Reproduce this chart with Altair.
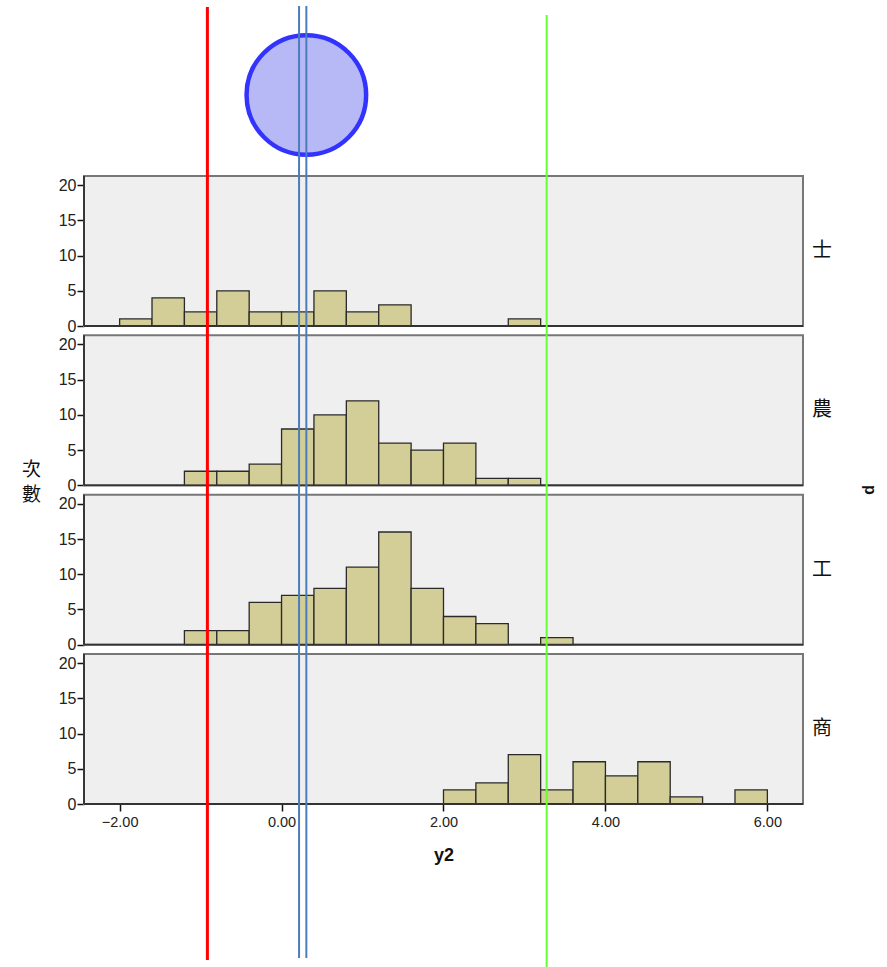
import altair as alt
import pandas as pd

# ---- data -------------------------------------------------------------
groups = ["士", "農", "工", "商"]
bin_starts = [-2.0, -1.6, -1.2, -0.8, -0.4, 0.0, 0.4, 0.8, 1.2, 1.6,
              2.0, 2.4, 2.8, 3.2, 3.6, 4.0, 4.4, 4.8, 5.2, 5.6]
bin_width = 0.4
counts = {
    "士": [1, 4, 2, 5, 2, 2, 5, 2, 3, 0, 0, 0, 1, 0, 0, 0, 0, 0, 0, 0],
    "農": [0, 0, 2, 2, 3, 8, 10, 12, 6, 5, 6, 1, 1, 0, 0, 0, 0, 0, 0, 0],
    "工": [0, 0, 2, 2, 6, 7, 8, 11, 16, 8, 4, 3, 0, 1, 0, 0, 0, 0, 0, 0],
    "商": [0, 0, 0, 0, 0, 0, 0, 0, 0, 0, 2, 3, 7, 2, 6, 4, 6, 1, 0, 2],
}
y_ticks = [0, 5, 10, 15, 20]
x_ticks = [-2, 0, 2, 4, 6]

# reference lines and marker on the y2 axis
red_line = [-0.916]
blue_lines = [0.216, 0.306]
green_line = [3.274]
marker_x = [0.306]

# ---- layout -----------------------------------------------------------
W, H = 719, 628                 # plot area in px
PANEL_PX = 150                  # height of one panel
PANEL_TOP = 21.3                # count at the top of a panel
units_per_px = PANEL_TOP / PANEL_PX
pitch_px = (H - PANEL_PX) / 3
PITCH = pitch_px * units_per_px
Y_MAX = H * units_per_px
X_DOMAIN = [-2.44, 6.44]

panel_rows = []
for i, g in enumerate(groups):
    base = (len(groups) - 1 - i) * PITCH
    panel_rows.append({"group": g, "bottom": base, "top": base + PANEL_TOP,
                       "center": base + PANEL_TOP / 2})
panels = pd.DataFrame(panel_rows)

bar_rows = []
for p in panel_rows:
    for b, c in zip(bin_starts, counts[p["group"]]):
        if c > 0:
            bar_rows.append({"group": p["group"], "x0": b, "x1": b + bin_width,
                             "y0": p["bottom"], "y1": p["bottom"] + c, "count": c})
bars = pd.DataFrame(bar_rows)

tick_values = [p["bottom"] + t for p in panel_rows for t in y_ticks]

xs = alt.Scale(domain=X_DOMAIN, nice=False, zero=False)
ys = alt.Scale(domain=[0, Y_MAX], nice=False, zero=False)

FONT = "Liberation Sans"

# one axis definition shared by every layer, so the layers merge cleanly
y_axis = alt.Axis(
    values=tick_values,
    labelExpr=f"round(datum.value - floor((datum.value + 0.5) / {PITCH}) * {PITCH})",
    grid=False, domain=False, ticks=True,
    title=["次", "數"], titleAngle=0, titleAlign="center",
    titleBaseline="top", titleX=-53, titleY=284,
)
x_axis = alt.Axis(
    values=x_ticks, format=".2f", grid=False, domain=False, ticks=True,
    title="y2",
)


def Y(field):
    return alt.Y(field, scale=ys, axis=y_axis)


def X(field):
    return alt.X(field, scale=xs, axis=x_axis)


# panel backgrounds with frame
bg = alt.Chart(panels).mark_rect(fill="#efefef", stroke="#777", strokeWidth=2).encode(
    x=alt.value(0), x2=alt.value(W), y=Y("top:Q"), y2="bottom:Q",
)

hist = alt.Chart(bars).mark_rect(fill="#d3ce97", stroke="#2a2a2a", strokeWidth=1.3).encode(
    x=X("x0:Q"), x2="x1:Q", y=Y("y1:Q"), y2="y0:Q",
)

left_edge = alt.Chart(panels).mark_rule(color="#222", strokeWidth=1.5).encode(
    x=alt.value(0), y=Y("bottom:Q"), y2="top:Q",
)
bottom_edge = alt.Chart(panels).mark_rule(color="#333", strokeWidth=1.8).encode(
    x=alt.value(0), x2=alt.value(W), y=Y("bottom:Q"),
)

row_labels = alt.Chart(panels).mark_text(
    font="Noto Sans CJK TC", fontSize=20, color="#111", align="center", baseline="middle"
).encode(
    x=alt.value(W + 19), y=Y("center:Q"), text="group:N",
)

facet_title = alt.Chart(pd.DataFrame({"t": ["p"]})).mark_text(
    font=FONT, fontSize=16, fontWeight="bold", angle=90, color="#111",
    align="center", baseline="middle",
).encode(x=alt.value(W + 67), y=alt.value(314), text="t:N")

marker = alt.Chart(pd.DataFrame({"x": marker_x})).mark_circle(
    size=14300, fill="#b6b9f6", opacity=1, stroke="#3333ff", strokeWidth=4.5
).encode(x=X("x:Q"), y=alt.value(-81))

red = alt.Chart(pd.DataFrame({"x": red_line})).mark_rule(color="#ff0000", strokeWidth=3).encode(
    x=X("x:Q"), y=alt.value(-169), y2=alt.value(784),
)
blue = alt.Chart(pd.DataFrame({"x": blue_lines})).mark_rule(color="#4a7ebb", strokeWidth=2).encode(
    x=X("x:Q"), y=alt.value(-170), y2=alt.value(782),
)
green = alt.Chart(pd.DataFrame({"x": green_line})).mark_rule(color="#66ff33", strokeWidth=2).encode(
    x=X("x:Q"), y=alt.value(-161), y2=alt.value(791),
)

chart = alt.layer(
    bg, hist, left_edge, bottom_edge, row_labels, facet_title,
    marker, red, blue, green,
).properties(
    width=W, height=H,
    autosize=alt.AutoSizeParams(type="none"),
    padding={"left": 84, "top": 176, "right": 84, "bottom": 163},
    background="white",
).configure_view(
    stroke=None
).configure_axis(
    tickSize=7, tickColor="#111", tickWidth=1.5, labelColor="#222",
    labelFont=FONT, titleColor="#111",
).configure_axisY(
    labelFontSize=16, labelPadding=1, titleFontSize=19,
    titleFontWeight="normal", titleFont="Noto Sans CJK TC", titleLineHeight=25,
).configure_axisX(
    labelFontSize=14.5, labelPadding=4, titleFontSize=18, titleFont=FONT,
    titleFontWeight="bold", titlePadding=18,
)

chart.save("out.html", embed_options={"renderer": "svg", "actions": False})
